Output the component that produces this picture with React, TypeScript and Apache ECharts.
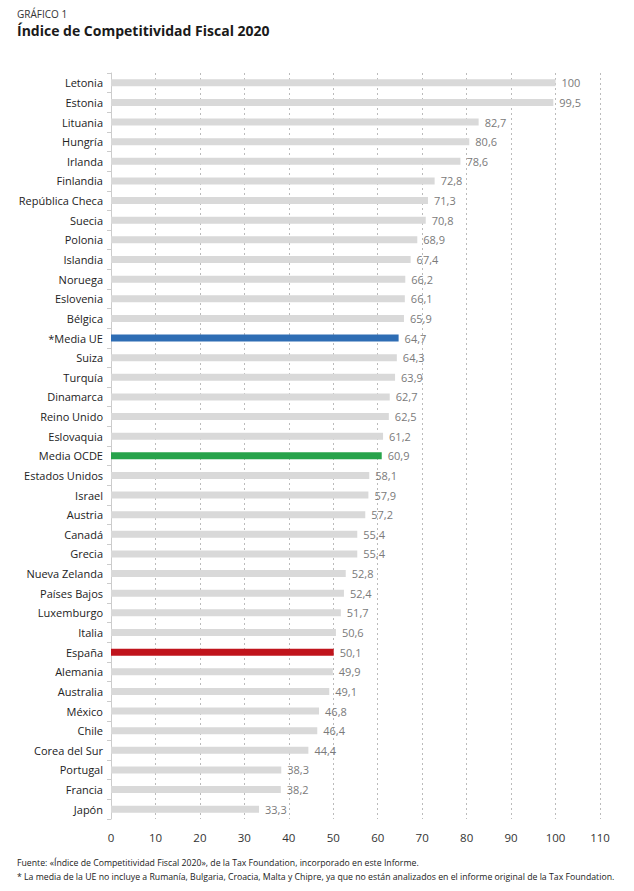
import React, { useEffect, useRef } from "react";
import * as echarts from "echarts";

const countries = [
  "Letonia", "Estonia", "Lituania", "Hungría", "Irlanda", "Finlandia", "República Checa", "Suecia",
  "Polonia", "Islandia", "Noruega", "Eslovenia", "Bélgica", "*Media UE", "Suiza", "Turquía",
  "Dinamarca", "Reino Unido", "Eslovaquia", "Media OCDE", "Estados Unidos", "Israel", "Austria",
  "Canadá", "Grecia", "Nueva Zelanda", "Países Bajos", "Luxemburgo", "Italia", "España", "Alemania",
  "Australia", "México", "Chile", "Corea del Sur", "Portugal", "Francia", "Japón",
];
const scores = [
  100, 99.5, 82.7, 80.6, 78.6, 72.8, 71.3, 70.8, 68.9, 67.4, 66.2, 66.1, 65.9, 64.7, 64.3, 63.9,
  62.7, 62.5, 61.2, 60.9, 58.1, 57.9, 57.2, 55.4, 55.4, 52.8, 52.4, 51.7, 50.6, 50.1, 49.9, 49.1,
  46.8, 46.4, 44.4, 38.3, 38.2, 33.3,
];
const highlight: Record<string, string> = {
  "*Media UE": "#2e6db4",
  "Media OCDE": "#27a34b",
  "España": "#c0141c",
};
const xTicks = [0, 10, 20, 30, 40, 50, 60, 70, 80, 90, 100, 110];

const FONT = "'Open Sans', sans-serif";

export default function App() {
  const ref = useRef<HTMLDivElement>(null);
  useEffect(() => {
    const chart = echarts.init(ref.current!, undefined, { renderer: "svg" });
    chart.setOption({
      animation: false,
      backgroundColor: "#ffffff",
      textStyle: { fontFamily: FONT },
      graphic: [
        { type: "text", x: 17, y: 9, style: { text: "GRÁFICO 1", fontSize: 10, fill: "#333", fontFamily: FONT } },
        { type: "text", x: 17, y: 23, style: { text: "Índice de Competitividad Fiscal 2020", fontSize: 14, fontWeight: "bold", fill: "#1a1a1a", fontFamily: FONT } },
        { type: "text", x: 17, y: 857, scaleX: 0.92, style: { text: "Fuente: «Índice de Competitividad Fiscal 2020», de la Tax Foundation, incorporado en este Informe.", fontSize: 9.5, fill: "#222", fontFamily: FONT } },
        { type: "text", x: 17, y: 871, scaleX: 0.92, style: { text: "* La media de la UE no incluye a Rumanía, Bulgaria, Croacia, Malta y Chipre, ya que no están analizados en el informe original de la Tax Foundation.", fontSize: 9.5, fill: "#222", fontFamily: FONT } },
      ],
      grid: { left: 111, right: 34, top: 73, bottom: 72, containLabel: false },
      xAxis: {
        type: "value",
        min: 0,
        max: 110,
        interval: 10,
        axisLine: { show: false },
        axisTick: { show: false },
        axisLabel: {
          color: "#333",
          fontSize: 11.5,
          margin: 12,
          fontFamily: FONT,
          formatter: (v: number) => (xTicks.includes(v) ? String(v) : ""),
        },
        splitLine: { show: true, lineStyle: { color: "#bbbbbb", type: [2, 3], width: 1 } },
      },
      yAxis: {
        type: "category",
        data: countries,
        inverse: true,
        axisLine: { show: true, lineStyle: { color: "#cccccc", width: 1 } },
        axisTick: { show: true, length: 4, lineStyle: { color: "#cccccc" } },
        axisLabel: { color: "#222", fontSize: 11, margin: 8, fontFamily: FONT },
        splitLine: { show: false },
      },
      series: [
        {
          type: "bar",
          data: countries.map((c, i) => ({
            value: scores[i],
            itemStyle: { color: highlight[c] || "#d9d9d9" },
          })),
          barWidth: 7,
          label: {
            show: true,
            position: "right",
            distance: 6,
            color: "#7a7a7a",
            fontSize: 11,
            fontFamily: FONT,
            formatter: (p: any) => String(p.value).replace(".", ","),
          },
        },
      ],
    });
    return () => chart.dispose();
  }, []);
  return <div ref={ref} style={{ position: "fixed", left: 0, top: 0, width: 634, height: 891 }} />;
}
